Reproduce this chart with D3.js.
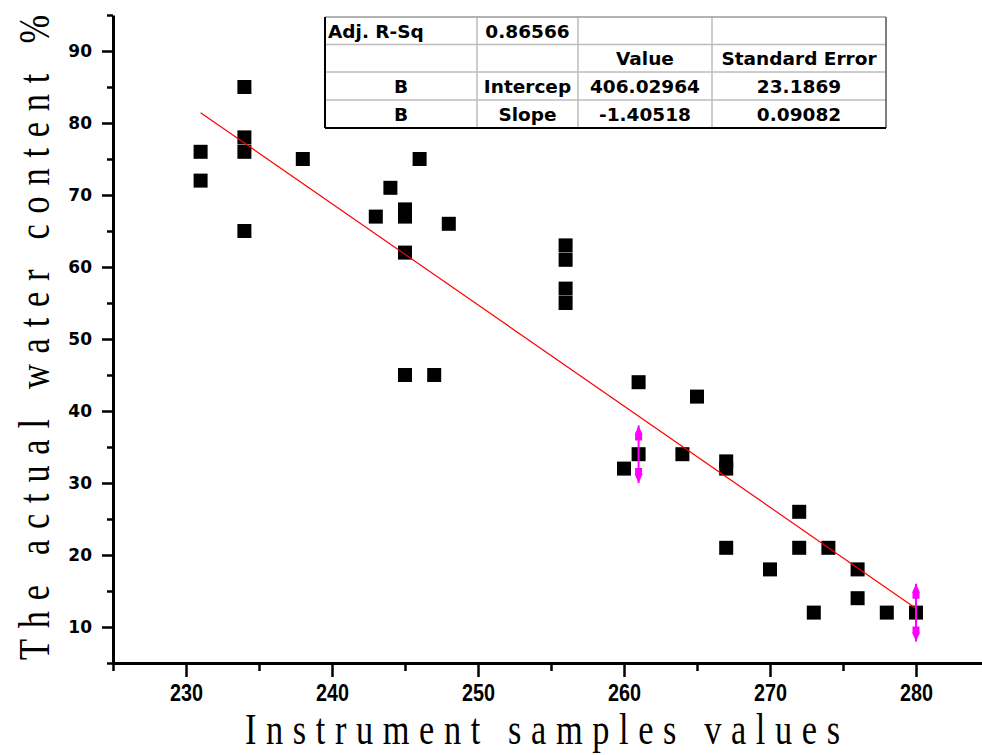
<!DOCTYPE html>
<html>
<head>
<meta charset="utf-8">
<script src="https://cdn.jsdelivr.net/npm/d3@7"></script>
<style>
  body { margin: 0; background: #fff; }
  svg { display: block; }
</style>
</head>
<body>
<div id="chart"></div>
<script>
// measured points: instrument value vs actual water content
const xVals = [231, 231, 234, 234, 234, 234, 238, 243, 244, 245, 245, 245, 245, 246, 247, 248,
               256, 256, 256, 256, 260, 261, 261, 264, 265, 267, 267, 267, 270, 272, 272, 273,
               274, 276, 276, 278, 280];
const yVals = [76, 72, 85, 78, 76, 65, 75, 67, 71, 68, 67, 62, 45, 75, 45, 66,
               63, 61, 57, 55, 32, 44, 34, 34, 42, 33, 32, 21, 18, 26, 21, 12,
               21, 18, 14, 12, 12];

// error bars (magenta)
const errX = [261, 280];
const errY = [34, 12];
const errSize = [4, 4];

// linear fit table
const adjRSq = "0.86566";
const fitNames = ["B", "B"];
const fitParams = ["Intercep", "Slope"];
const fitValues = [406.02964, -1.40518];
const fitErrors = ["23.1869", "0.09082"];

const xTicks = [230, 240, 250, 260, 270, 280];
const yTicks = [10, 20, 30, 40, 50, 60, 70, 80, 90];

const width = 982, height = 755;

const svg = d3.select("#chart")
    .append("svg")
    .attr("width", width)
    .attr("height", height)
    .attr("viewBox", [0, 0, width, height]);

const x = d3.scaleLinear().domain([225, 285]).range([113, 989]);
const y = d3.scaleLinear().domain([5, 95]).range([663, 15]);

// minor ticks every 5
const xMinor = d3.range(225, 286, 5).filter(v => !xTicks.includes(v));
const yMinor = d3.range(5, 96, 5).filter(v => !yTicks.includes(v));

// x axis
svg.append("g")
    .attr("transform", `translate(0,${y(5)})`)
    .call(d3.axisBottom(x).tickValues(xMinor).tickSize(8).tickSizeOuter(0).tickFormat(""))
    .call(g => g.select(".domain").remove())
    .call(g => g.selectAll("line").attr("stroke", "#000").attr("stroke-width", 2.5));

svg.append("g")
    .attr("transform", `translate(0,${y(5)})`)
    .call(d3.axisBottom(x).tickValues(xTicks).tickSize(14).tickSizeOuter(0).tickPadding(8))
    .call(g => g.select(".domain").attr("stroke", "#000").attr("stroke-width", 3))
    .call(g => g.selectAll("line").attr("stroke", "#000").attr("stroke-width", 2.5))
    .call(g => g.selectAll("text")
        .attr("fill", "#000")
        .attr("textLength", 33)
        .attr("lengthAdjust", "spacingAndGlyphs")
        .style("font-family", "'Liberation Sans', sans-serif")
        .style("font-weight", "bold")
        .style("font-size", "23px"));

// y axis
svg.append("g")
    .attr("transform", `translate(${x(225)},0)`)
    .call(d3.axisLeft(y).tickValues(yMinor).tickSize(6).tickSizeOuter(0).tickFormat(""))
    .call(g => g.select(".domain").remove())
    .call(g => g.selectAll("line").attr("stroke", "#000").attr("stroke-width", 2.5));

svg.append("g")
    .attr("transform", `translate(${x(225)},0)`)
    .call(d3.axisLeft(y).tickValues(yTicks).tickSize(11).tickSizeOuter(0).tickPadding(10))
    .call(g => g.select(".domain").attr("stroke", "#000").attr("stroke-width", 3))
    .call(g => g.selectAll("line").attr("stroke", "#000").attr("stroke-width", 2.5))
    .call(g => g.selectAll("text")
        .attr("fill", "#000")
        .style("font-family", "'DejaVu Sans', sans-serif")
        .style("font-weight", "bold")
        .style("font-size", "17px"));

// axis titles: tall narrow glyphs, evenly spread (monospace look)
const squeeze = 0.78;
svg.append("text")
    .text("Instrument samples values")
    .attr("transform", `translate(245,744) scale(${squeeze},1)`)
    .attr("textLength", 595 / squeeze)
    .attr("lengthAdjust", "spacing")
    .style("font-family", "'Liberation Serif', serif")
    .style("font-size", "44px");

svg.append("text")
    .text("The actual water content %")
    .attr("transform", `translate(49,660) rotate(-90) scale(${squeeze},1)`)
    .attr("textLength", 645 / squeeze)
    .attr("lengthAdjust", "spacing")
    .style("font-family", "'Liberation Serif', serif")
    .style("font-size", "44px");

// data squares
const pts = d3.zip(xVals, yVals);
svg.append("g")
    .selectAll("rect")
    .data(pts)
    .join("rect")
    .attr("x", d => x(d[0]) - 7)
    .attr("y", d => y(d[1]) - 7)
    .attr("width", 14)
    .attr("height", 14)
    .attr("fill", "#000");

// fit line over the data range
const fitX = d3.extent(xVals);
const line = d3.line()
    .x(d => x(d))
    .y(d => y(fitValues[0] + fitValues[1] * d));
svg.append("path")
    .datum(fitX)
    .attr("d", line)
    .attr("fill", "none")
    .attr("stroke", "#ff0000")
    .attr("stroke-width", 1.2);

// magenta error bars with arrow caps
const errs = d3.zip(errX, errY, errSize);
const eb = svg.append("g").attr("fill", "#ff00ff").attr("stroke", "#ff00ff");
errs.forEach(([ex, ey, es]) => {
    const cx = x(ex), top = y(ey + es), bot = y(ey - es);
    eb.append("line")
        .attr("x1", cx).attr("x2", cx)
        .attr("y1", top).attr("y2", bot)
        .attr("stroke-width", 2);
    eb.append("path")
        .attr("stroke", "none")
        .attr("d", `M${cx},${top} L${cx - 4},${top + 9} L${cx - 3.5},${top + 9} L${cx - 3.5},${top + 15} L${cx + 3.5},${top + 15} L${cx + 3.5},${top + 9} L${cx + 4},${top + 9} Z`);
    eb.append("path")
        .attr("stroke", "none")
        .attr("d", `M${cx},${bot} L${cx - 4},${bot - 9} L${cx - 3.5},${bot - 9} L${cx - 3.5},${bot - 15} L${cx + 3.5},${bot - 15} L${cx + 3.5},${bot - 9} L${cx + 4},${bot - 9} Z`);
});

// fit results table
const colX = [325, 477, 578, 712, 886];
const rowY = [17, 44.5, 72, 100, 128];
const cells = [
    ["Adj. R-Sq", adjRSq, "", ""],
    ["", "", "Value", "Standard Error"],
    [fitNames[0], fitParams[0], fitValues[0].toFixed(5), fitErrors[0]],
    [fitNames[1], fitParams[1], fitValues[1].toFixed(5), fitErrors[1]]
];
const table = svg.append("g");
table.append("rect")
    .attr("x", colX[0]).attr("y", rowY[0])
    .attr("width", colX[4] - colX[0]).attr("height", rowY[4] - rowY[0])
    .attr("fill", "#fff");
// inner grid
rowY.slice(1, 4).forEach(ry => {
    table.append("line")
        .attr("x1", colX[0]).attr("x2", colX[4])
        .attr("y1", ry).attr("y2", ry)
        .attr("stroke", "#bdbdbd").attr("stroke-width", 1.5);
});
colX.slice(1, 4).forEach(cx => {
    table.append("line")
        .attr("x1", cx).attr("x2", cx)
        .attr("y1", rowY[0]).attr("y2", rowY[4])
        .attr("stroke", "#bdbdbd").attr("stroke-width", 1.5);
});
// outer border
table.append("line").attr("x1", colX[0]).attr("x2", colX[4]).attr("y1", rowY[0]).attr("y2", rowY[0])
    .attr("stroke", "#9a9a9a").attr("stroke-width", 1.5);
table.append("line").attr("x1", colX[4]).attr("x2", colX[4]).attr("y1", rowY[0]).attr("y2", rowY[4])
    .attr("stroke", "#555").attr("stroke-width", 1.5);
table.append("line").attr("x1", colX[0]).attr("x2", colX[0]).attr("y1", rowY[0]).attr("y2", rowY[4])
    .attr("stroke", "#000").attr("stroke-width", 2);
table.append("line").attr("x1", colX[0]).attr("x2", colX[4]).attr("y1", rowY[4]).attr("y2", rowY[4])
    .attr("stroke", "#000").attr("stroke-width", 2);

cells.forEach((row, ri) => {
    row.forEach((txt, ci) => {
        if (!txt) return;
        const left = (ri === 0 && ci === 0);
        table.append("text")
            .text(txt)
            .attr("x", left ? colX[0] + 3 : (colX[ci] + colX[ci + 1]) / 2)
            .attr("y", (rowY[ri] + rowY[ri + 1]) / 2 + 7)
            .attr("text-anchor", left ? "start" : "middle")
            .style("font-family", "'DejaVu Sans', sans-serif")
            .style("font-weight", "bold")
            .style("font-size", "18.5px");
    });
});
</script>
</body>
</html>
